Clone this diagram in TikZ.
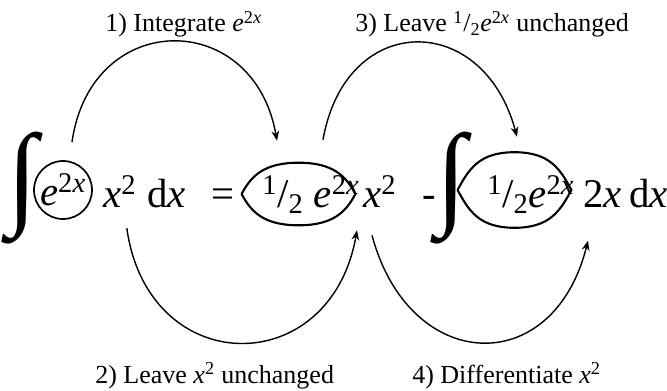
\documentclass[tikz,border=0pt]{standalone}
\usepackage{fontspec}
\setmainfont{Liberation Serif}
\usepackage{graphicx}
\usetikzlibrary{arrows.meta}

\newcommand{\etwox}{\textit{e}\textsuperscript{2\textit{x}}}
\newcommand{\halfof}{\textsuperscript{1}/\textsubscript{2}}
\newcommand{\xsq}{\textit{x}\textsuperscript{2}}
\newcommand{\bigint}{\resizebox*{0.75cm}{2.8cm}{∫}}

\begin{document}
\begin{tikzpicture}[
    x=0.025cm, y=0.025cm,
    term/.style={inner sep=0pt, anchor=base west, font=\fontsize{29}{34}\selectfont},
    lbl/.style={inner sep=0pt, anchor=base west, font=\fontsize{18.5}{22}\selectfont},
    ring/.style={draw, circle, line width=1.2pt, inner sep=0pt, minimum size=1.45cm,
                 font=\fontsize{29}{34}\selectfont},
    hole/.style={inner sep=0pt, minimum width=2.83cm},
    lens/.style={line width=1.5pt},
    arr/.style={-{Stealth[length=7pt,width=5.5pt]}, line width=1pt}
]
    \useasboundingbox (0,0) rectangle (667,390);

    % left side
    \node[inner sep=0pt] (int1) at (23,202) {\bigint};
    \node[ring] (ring1) at (63,200) {\etwox};
    \node[term] (x2a) at (103,183) {\xsq};
    \node[term] (dxa) at (147,183) {d\textit{x}};
    \node[term] (eq)  at (211,183) {=};

    % right side
    \node[hole, minimum height=1.55cm] (ring2) at (298.5,196) {};
    \node[term] (half1) at (262,183) {\halfof\ \etwox};
    \node[term] (x2b)   at (363,183) {\xsq};
    \node[term] (minus) at (422,183) {-};
    \node[inner sep=0pt] (int2) at (452,202) {\bigint};
    \node[hole, minimum height=1.875cm] (ring3) at (514.5,200) {};
    \node[term] (half2) at (487,183) {\halfof\etwox};
    \node[term] (twox)  at (583,183) {2\textit{x}\hspace{0.18em}d\textit{x}};

    \draw[lens] (ring2.west) .. controls +(62:20) and +(-35,0) .. (ring2.north)
                .. controls +(35,0) and +(118:20) .. (ring2.east)
                .. controls +(242:20) and +(35,0) .. (ring2.south)
                .. controls +(-35,0) and +(-62:20) .. (ring2.west);
    \draw[lens] (ring3.west) .. controls +(62:24) and +(-35,0) .. (ring3.north)
                .. controls +(35,0) and +(118:24) .. (ring3.east)
                .. controls +(242:24) and +(35,0) .. (ring3.south)
                .. controls +(-35,0) and +(-62:24) .. (ring3.west);

    % steps
    \node[lbl] (lab1) at (105,358) {1) Integrate \etwox};
    \node[lbl] (lab3) at (355,358) {3) Leave \halfof\etwox\ unchanged};
    \node[lbl] (lab2) at (95,7)    {2) Leave \xsq\ unchanged};
    \node[lbl] (lab4) at (412,7)   {4) Differentiate \xsq};

    \draw[arr] ([shift={(9,18)}]ring1.north) to[out=82,in=100,looseness=1.68] ([shift={(-21.5,22)}]ring2.north);
    \draw[arr] ([shift={(24.5,23)}]ring2.north) to[out=80,in=105,looseness=1.72] ([shift={(2.5,15.5)}]ring3.north);
    \draw[arr] ([shift={(7,-21)}]x2a.south) to[out=-82,in=-100,looseness=1.7] ([shift={(-6,-23)}]x2b.south west);
    \draw[arr] ([shift={(9,-28)}]x2b.south west) to[out=-75,in=-104,looseness=1.7] ([shift={(5,-33)}]twox.south west);
\end{tikzpicture}
\end{document}
